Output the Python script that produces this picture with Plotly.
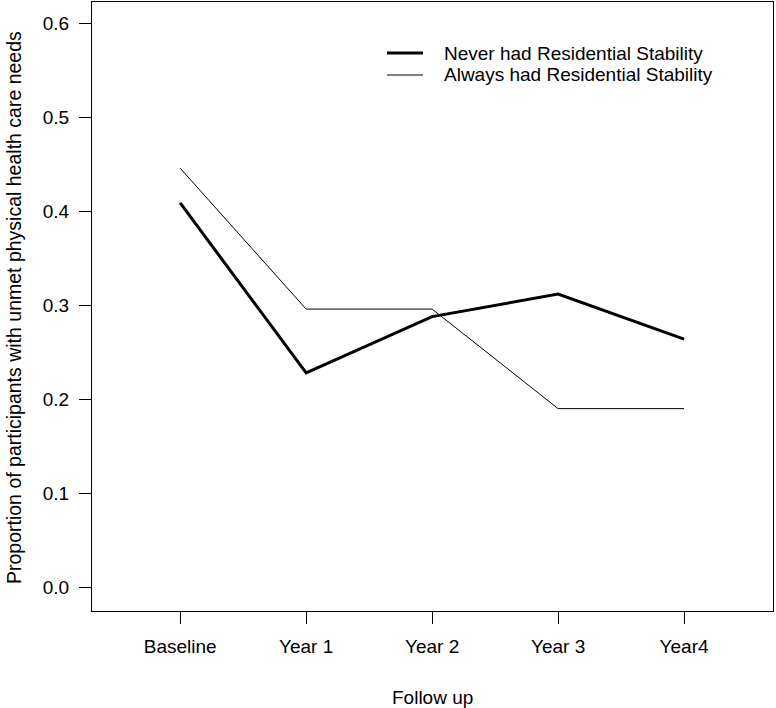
import plotly.graph_objects as go

categories = ["Baseline", "Year 1", "Year 2", "Year 3", "Year4"]
never_stable = [0.409, 0.228, 0.288, 0.312, 0.264]
always_stable = [0.446, 0.296, 0.296, 0.190, 0.190]
y_ticks = [0.0, 0.1, 0.2, 0.3, 0.4, 0.5, 0.6]
series_names = ["Never had Residential Stability", "Always had Residential Stability"]

FONT = "Liberation Sans, Arial, Helvetica, sans-serif"
xs = list(range(len(categories)))

fig = go.Figure()
fig.add_trace(go.Scatter(x=xs, y=never_stable, mode="lines", name=series_names[0],
                         line=dict(color="black", width=3), showlegend=False))
fig.add_trace(go.Scatter(x=xs, y=always_stable, mode="lines", name=series_names[1],
                         line=dict(color="black", width=1), showlegend=False))

# legend drawn in paper coords (R style, no frame)
for i, (name, w) in enumerate(zip(series_names, [3, 1])):
    ypaper = 1 - (53 + i * 22 - 2) / 609
    fig.add_shape(type="line", xref="paper", yref="paper",
                  x0=(387 - 92) / 681, x1=(423 - 92) / 681, y0=ypaper, y1=ypaper,
                  line=dict(color="black", width=w))
    fig.add_annotation(xref="paper", yref="paper", x=(442 - 92) / 681, y=ypaper,
                       text=name, showarrow=False, xanchor="left", yanchor="middle",
                       font=dict(family=FONT, size=19, color="black"))

fig.add_annotation(xref="paper", yref="paper", x=0.5, y=-(697 - 611) / 609,
                   text="Follow up", showarrow=False, xanchor="center", yanchor="middle",
                   font=dict(family=FONT, size=19, color="black"))
fig.add_annotation(xref="paper", yref="paper", x=-(92 - 14) / 681, y=1 - (308 - 2) / 609,
                   text="Proportion of participants with unmet physical health care needs",
                   textangle=-90, showarrow=False, xanchor="center", yanchor="middle",
                   font=dict(family=FONT, size=19.5, color="black"))

fig.update_layout(
    width=776, height=708,
    margin=dict(l=92, r=3, t=2, b=97),
    paper_bgcolor="white", plot_bgcolor="white",
    font=dict(family=FONT, size=19, color="black"),
    xaxis=dict(range=[-0.7, 4.706], tickmode="array", tickvals=xs, ticktext=categories,
               showgrid=False, zeroline=False, showline=True, mirror=True,
               linecolor="black", linewidth=1, ticks="outside", ticklen=12,
               tickcolor="black", tickwidth=1, ticklabelstandoff=6),
    yaxis=dict(range=[-0.0255, 0.623], tickmode="array", tickvals=y_ticks,
               ticktext=[f"{v:.1f}" for v in y_ticks],
               showgrid=False, zeroline=False, showline=True, mirror=True,
               linecolor="black", linewidth=1, ticks="outside", ticklen=12,
               tickcolor="black", tickwidth=1, ticklabelstandoff=6),
)

fig.write_html("out.html", config={"displayModeBar": False},
               post_script="document.body.style.margin='0px';document.body.style.padding='0px';")
